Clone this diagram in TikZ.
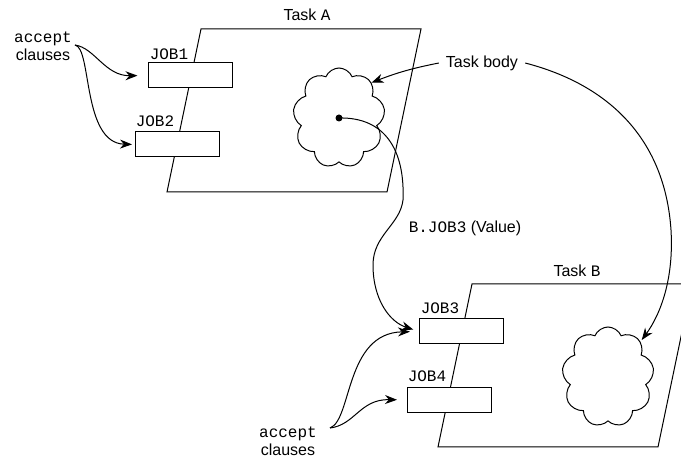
\documentclass[tikz,border=0pt]{standalone}
\usepackage{fontspec}
\setsansfont{Liberation Sans}
\setmonofont{Liberation Mono}
\usetikzlibrary{arrows.meta,shapes.symbols}
\begin{document}
\begin{tikzpicture}[x=0.5pt,y=-0.5pt,line width=0.5pt,
  every node/.style={font=\fontsize{8}{9}\selectfont\sffamily},
  job/.style={draw,fill=white,minimum width=42pt,minimum height=12.5pt,inner sep=0pt},
  blob/.style={draw,cloud,cloud puffs=9,cloud puff arc=135,minimum width=46pt,minimum height=50pt,aspect=0.9},
  arr/.style={-{Stealth[length=6pt,width=4.5pt]}}]
\useasboundingbox (0,0) rectangle (681,459);
\clip (0,0) rectangle (681,459);
% task A
\draw (201,29) -- (421,29) -- (387,192) -- (167,192) -- cycle;
\node (taskA) at (307,15) {Task \texttt{A}};
\node[job] (job1) at (190,75.5) {};
\node[job] (job2) at (177.5,144.5) {};
\node (lab1) at (169,54) {\texttt{JOB1}};
\node (lab2) at (155,121) {\texttt{JOB2}};
\node[blob] (cloudA) at (339,118) {};
\fill (cloudA.center) circle (3.5);
\node[align=center,inner sep=1pt] (acceptA) at (43,46) {\texttt{accept}\\clauses};
\coordinate (srcA) at (75,45);
\draw[arr,shorten >=5pt] (srcA) .. controls (95,48) and (105,76) .. (job1.west);
\draw[arr,shorten >=1.5pt] (srcA) .. controls (92,48) and (82,143) .. (job2.west);
% task B
\draw (472,284) -- (692,284) -- (658,447) -- (438,447) -- cycle;
\node (taskB) at (577,271) {Task \texttt{B}};
\node[job] (job3) at (461.5,331.5) {};
\node[job] (job4) at (449.5,400) {};
\node (lab3) at (440,308) {\texttt{JOB3}};
\node (lab4) at (427,376) {\texttt{JOB4}};
\node[blob] (cloudB) at (608,377) {};
\node[align=center,inner sep=1pt] (acceptB) at (288,441) {\texttt{accept}\\clauses};
\coordinate (srcB) at (330,428);
\draw[arr,shorten >=4.5pt] (srcB) .. controls (352,420) and (345,333) .. (job3.west);
\draw[arr,shorten >=5pt] (srcB) .. controls (355,425) and (360,399) .. (job4.west);
% entry call and task bodies
\node (call) at (465,228) {\texttt{B.JOB3} (Value)};
\draw[arr,shorten >=3pt] (cloudA.center) .. controls (385,117) and (405,150) .. (403,200)
  .. controls (400,225) and (373,235) .. (373,265)
  .. controls (373,300) and (390,322) .. (job3.west);
\node (body) at (482,63) {Task body};
\draw[arr] (body.west) to[bend right=5] (cloudA.north east);
\draw[arr,shorten >=1pt] (body.east) .. controls (610,85) and (665,140) .. (671,230)
  .. controls (674,280) and (660,315) .. (cloudB.north east);
\end{tikzpicture}
\end{document}
